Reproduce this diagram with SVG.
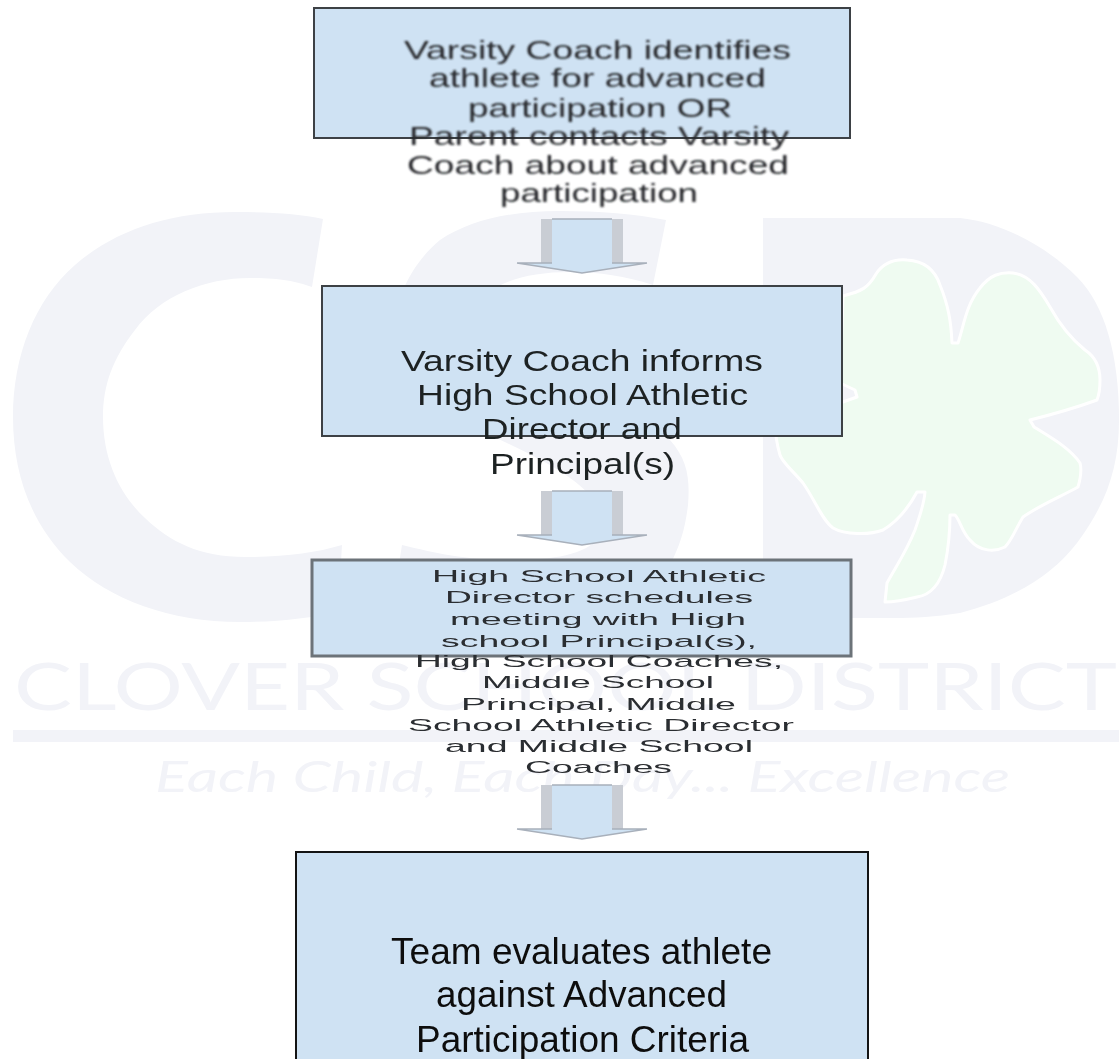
<svg xmlns="http://www.w3.org/2000/svg" xmlns:xlink="http://www.w3.org/1999/xlink" width="1119" height="1059" viewBox="0 0 1119 1059">
<style>
text{font-family:"Liberation Sans",Arial,sans-serif;fill:#1f2124}
.box{fill:#cfe2f3;stroke-width:2}
.s1{stroke:#3d4145}
.s3{stroke:#6c7379;stroke-width:3}
.s4{stroke:#141414}
.t1{font-size:25.5px;filter:url(#soft2);fill:#25282b}
.t2{font-size:30px;filter:url(#soft)}
.t3{font-size:17px;filter:url(#soft);fill:#2b2d30}
.t4{font-size:36px;filter:url(#soft);fill:#111}
.wm{fill:#f2f3f8}
.wmt{font-family:Lato,"Open Sans",sans-serif;fill:#f2f3f8;filter:url(#soft)}
.side{fill:#c9cdd4}
.fill{fill:#cfe2f3}
.edge{fill:none;stroke:#a8b0bb;stroke-width:1.5}
</style>
<defs>
<filter id="soft" x="-5%" y="-20%" width="110%" height="140%"><feGaussianBlur stdDeviation="0.7"/></filter>
<filter id="soft2" x="-5%" y="-20%" width="110%" height="140%"><feGaussianBlur stdDeviation="0.95"/></filter>
<g id="arrow">
<polygon class="fill" points="11,0 71,0 71,44 106,44 41,54 -24,44 11,44"/>
<rect class="side" x="0" y="0" width="11" height="44"/>
<rect class="side" x="71" y="0" width="11" height="44"/>
<path class="edge" d="M11,0H71M-24,44L41,54L106,44M-24,44H11M71,44H106"/>
</g>
</defs>
<rect width="1119" height="1059" fill="#fff"/>
<g id="watermark">
<path class="wm" d="M323,219L312,287C295,281 280,278 250,278C205,278 160,296 135,330C113,358 103,385 103,417C103,460 120,495 145,518C170,542 200,557 245,557C285,557 315,553 342,545L338,612C310,618 280,622 240,622C170,622 110,600 70,562C32,525 13,475 13,417C13,355 35,300 75,265C115,230 170,212 235,212C270,212 300,214 323,219Z"/>
<path class="wm" d="M666,220L653,285C625,276 600,272 570,272C540,272 515,277 497,287C470,305 480,345 510,365C555,385 640,410 670,440C688,460 690,480 688,505C685,530 680,545 670,565C640,600 580,622 510,622C465,622 425,617 392,608L402,545C435,553 465,560 510,560C545,560 580,557 597,540C610,520 595,495 570,478C545,460 510,445 480,430C430,405 395,375 395,330C395,300 410,265 440,240C470,220 510,211 560,211C600,211 635,214 666,220Z"/>
<path class="wm" d="M763,218H960C1000,222 1045,245 1077,277C1105,305 1119,355 1119,420C1119,470 1105,505 1077,543C1050,578 1010,600 960,613C935,617 915,618 893,618H763Z"/>
<path d="M843,296C862,291 868,288 876,274C884,262 895,259 907,260C925,261 935,270 940,285C948,305 951,320 952,343L958,343C964,325 966,305 980,288C990,275 1000,272 1013,273C1030,275 1040,290 1050,307C1060,325 1070,338 1085,350C1097,358 1100,370 1100,380C1100,390 1099,395 1097,400C1075,408 1050,415 1030,420L1034,427C1050,437 1070,448 1080,463C1082,470 1080,480 1078,487C1060,497 1040,505 1023,517C1015,530 1012,540 1005,547C995,552 980,552 970,540C962,532 960,520 955,515L950,515C950,530 948,550 945,565C940,585 930,595 917,597C905,600 895,602 885,602L887,583C897,565 907,550 915,530C920,515 924,505 925,492L917,492C910,505 900,520 883,530C870,535 845,535 833,528C822,520 815,500 803,483C792,470 782,462 780,455C777,445 775,430 775,420L840,403L857,397L855,390L840,383Z" fill="#effbf1" stroke="#fff" stroke-width="3" stroke-linejoin="round"/>
<text class="wmt" x="14" y="710" font-size="65" textLength="1103" lengthAdjust="spacingAndGlyphs">CLOVER SCHOOL DISTRICT</text>
<rect class="wm" x="13" y="730" width="1106" height="12"/>
<text class="wmt" x="155" y="792" font-size="42" font-style="italic" textLength="855" lengthAdjust="spacingAndGlyphs">Each Child, Each Day... Excellence</text>
</g>
<g id="connectors">
<use xlink:href="#arrow" href="#arrow" x="541" y="219"/>
<use xlink:href="#arrow" href="#arrow" x="541" y="491"/>
<use xlink:href="#arrow" href="#arrow" x="541" y="785"/>
</g>
<g id="node1">
<rect class="box s1" x="314" y="8" width="536" height="130"/>
<text class="t1" x="404" y="59" textLength="387" lengthAdjust="spacingAndGlyphs">Varsity Coach identifies</text>
<text class="t1" x="429" y="87" textLength="337" lengthAdjust="spacingAndGlyphs">athlete for advanced</text>
<text class="t1" x="468" y="117" textLength="264" lengthAdjust="spacingAndGlyphs">participation OR</text>
<text class="t1" x="409" y="145" textLength="380" lengthAdjust="spacingAndGlyphs">Parent contacts Varsity</text>
<text class="t1" x="407" y="174" textLength="382" lengthAdjust="spacingAndGlyphs">Coach about advanced</text>
<text class="t1" x="500" y="202" textLength="198" lengthAdjust="spacingAndGlyphs">participation</text>
</g>
<g id="node2">
<rect class="box s1" x="322" y="286" width="520" height="150"/>
<text class="t2" x="401" y="371" textLength="362" lengthAdjust="spacingAndGlyphs">Varsity Coach informs</text>
<text class="t2" x="417" y="405" textLength="331" lengthAdjust="spacingAndGlyphs">High School Athletic</text>
<text class="t2" x="482" y="439" textLength="200" lengthAdjust="spacingAndGlyphs">Director and</text>
<text class="t2" x="490" y="474" textLength="185" lengthAdjust="spacingAndGlyphs">Principal(s)</text>
</g>
<g id="node3">
<rect class="box s3" x="312" y="560" width="539" height="96"/>
<text class="t3" x="432" y="582" textLength="334" lengthAdjust="spacingAndGlyphs">High School Athletic</text>
<text class="t3" x="445" y="603" textLength="308" lengthAdjust="spacingAndGlyphs">Director schedules</text>
<text class="t3" x="450" y="625" textLength="296" lengthAdjust="spacingAndGlyphs">meeting with High</text>
<text class="t3" x="441" y="647" textLength="316" lengthAdjust="spacingAndGlyphs">school Principal(s),</text>
<text class="t3" x="415" y="667" textLength="368" lengthAdjust="spacingAndGlyphs">High School Coaches,</text>
<text class="t3" x="482" y="688" textLength="232" lengthAdjust="spacingAndGlyphs">Middle School</text>
<text class="t3" x="461" y="710" textLength="275" lengthAdjust="spacingAndGlyphs">Principal, Middle</text>
<text class="t3" x="408" y="731" textLength="386" lengthAdjust="spacingAndGlyphs">School Athletic Director</text>
<text class="t3" x="445" y="752" textLength="308" lengthAdjust="spacingAndGlyphs">and Middle School</text>
<text class="t3" x="525" y="773" textLength="147" lengthAdjust="spacingAndGlyphs">Coaches</text>
</g>
<g id="node4">
<rect class="box s4" x="296" y="852" width="572" height="220"/>
<text class="t4" x="391" y="964" textLength="381" lengthAdjust="spacingAndGlyphs">Team evaluates athlete</text>
<text class="t4" x="436" y="1007" textLength="291" lengthAdjust="spacingAndGlyphs">against Advanced</text>
<text class="t4" x="416" y="1052" textLength="333" lengthAdjust="spacingAndGlyphs">Participation Criteria</text>
</g>
</svg>
